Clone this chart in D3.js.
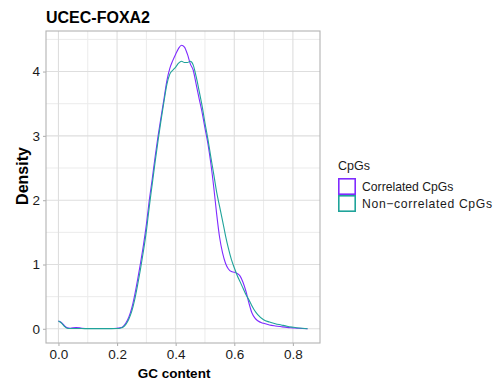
<!DOCTYPE html>
<html>
<head>
<meta charset="utf-8">
<script src="https://cdn.jsdelivr.net/npm/d3@7"></script>
<style>
  html, body { margin: 0; padding: 0; background: #fff; }
  svg { display: block; font-family: "Liberation Sans", Arial, sans-serif; }
</style>
</head>
<body>
<svg id="chart" width="498" height="387"></svg>
<script>
// GC content grid at which the density estimates are evaluated
const gcContent = [0, 0.01, 0.02, 0.03, 0.04, 0.06, 0.08, 0.10, 0.14, 0.18, 0.20, 0.21, 0.22, 0.23,
  0.24, 0.25, 0.26, 0.27, 0.28, 0.29, 0.30, 0.31, 0.32, 0.33, 0.34, 0.35, 0.36, 0.37, 0.38, 0.39,
  0.40, 0.41, 0.42, 0.43, 0.44, 0.45, 0.46, 0.47, 0.48, 0.49, 0.50, 0.51, 0.52, 0.53, 0.54, 0.55,
  0.56, 0.57, 0.58, 0.59, 0.60, 0.61, 0.62, 0.63, 0.64, 0.65, 0.66, 0.67, 0.68, 0.70, 0.72, 0.74,
  0.76, 0.78, 0.80, 0.82, 0.85];

const correlatedDensity = [0.12, 0.10, 0.05, 0.015, 0.01, 0.02, 0.01, 0.005, 0.005, 0.005, 0.01, 0.015, 0.035, 0.09,
  0.18, 0.32, 0.52, 0.76, 1.02, 1.30, 1.62, 2.00, 2.33, 2.68, 3.00, 3.29, 3.57, 3.86, 4.05, 4.17,
  4.27, 4.36, 4.41, 4.38, 4.27, 4.12, 4.02, 3.80, 3.58, 3.37, 3.12, 2.88, 2.57, 2.20, 1.78, 1.42,
  1.18, 1.02, 0.93, 0.89, 0.88, 0.86, 0.82, 0.72, 0.58, 0.40, 0.25, 0.17, 0.125, 0.085, 0.06, 0.045,
  0.033, 0.022, 0.015, 0.008, 0.002];

const nonCorrelatedDensity = [0.12, 0.09, 0.04, 0.008, 0.004, 0.004, 0.004, 0.003, 0.003, 0.003, 0.005, 0.01, 0.025, 0.07,
  0.15, 0.27, 0.45, 0.68, 0.93, 1.21, 1.52, 1.90, 2.25, 2.60, 2.93, 3.24, 3.53, 3.80, 3.96, 4.02,
  4.07, 4.13, 4.16, 4.14, 4.14, 4.16, 4.10, 3.92, 3.70, 3.47, 3.20, 2.95, 2.67, 2.40, 2.12, 1.90,
  1.68, 1.45, 1.25, 1.08, 0.95, 0.83, 0.73, 0.63, 0.53, 0.45, 0.36, 0.28, 0.22, 0.14, 0.105, 0.08,
  0.06, 0.04, 0.025, 0.012, 0.002];

const seriesNames = ["Correlated CpGs", "Non\u2212correlated CpGs"];
const seriesColors = ["#7F2BFF", "#1FA39A"];
const xTicks = [0, 0.2, 0.4, 0.6, 0.8];
const yTicks = [0, 1, 2, 3, 4];

const svg = d3.select("#chart");
const panel = { left: 46, top: 31, right: 320, bottom: 343 };

// ggplot-style 5% expansion on both axes
const xMin = 0, xMax = 0.85;
const xPad = (xMax - xMin) * 0.05;
const yMax = d3.max([...correlatedDensity, ...nonCorrelatedDensity]);
const yPad = yMax * 0.05;

const x = d3.scaleLinear().domain([xMin - xPad, xMax + xPad]).range([panel.left, panel.right]);
const y = d3.scaleLinear().domain([-yPad, yMax + yPad]).range([panel.bottom, panel.top]);

// minor grid
const g = svg.append("g");
const xMinor = d3.range(0.1, 0.9, 0.2);
const yMinor = d3.range(0.5, 4.6, 1);
g.selectAll("line.xminor").data(xMinor).join("line")
  .attr("x1", d => x(d)).attr("x2", d => x(d))
  .attr("y1", panel.top).attr("y2", panel.bottom)
  .attr("stroke", "#EBEBEB").attr("stroke-width", 1);
g.selectAll("line.yminor").data(yMinor.filter(v => y(v) > panel.top)).join("line")
  .attr("y1", d => y(d)).attr("y2", d => y(d))
  .attr("x1", panel.left).attr("x2", panel.right)
  .attr("stroke", "#EBEBEB").attr("stroke-width", 1);
// major grid
g.selectAll("line.xmajor").data(xTicks).join("line")
  .attr("x1", d => x(d)).attr("x2", d => x(d))
  .attr("y1", panel.top).attr("y2", panel.bottom)
  .attr("stroke", "#DEDEDE").attr("stroke-width", 1.1);
g.selectAll("line.ymajor").data(yTicks).join("line")
  .attr("y1", d => y(d)).attr("y2", d => y(d))
  .attr("x1", panel.left).attr("x2", panel.right)
  .attr("stroke", "#DEDEDE").attr("stroke-width", 1.1);

// density lines
const series = [correlatedDensity, nonCorrelatedDensity];
const line = d3.line()
  .x((d, i) => x(gcContent[i]))
  .y(d => y(d))
  .curve(d3.curveMonotoneX);
svg.append("g")
  .selectAll("path").data(series).join("path")
  .attr("d", d => line(d))
  .attr("fill", "none")
  .attr("stroke", (d, i) => seriesColors[i])
  .attr("stroke-width", 1.1);

// panel border
svg.append("rect")
  .attr("x", panel.left).attr("y", panel.top)
  .attr("width", panel.right - panel.left).attr("height", panel.bottom - panel.top)
  .attr("fill", "none").attr("stroke", "#B3B3B3").attr("stroke-width", 1.1);

// axes
const xAxis = d3.axisBottom(x).tickValues(xTicks).tickFormat(d3.format(".1f")).tickSize(3).tickPadding(3);
const yAxis = d3.axisLeft(y).tickValues(yTicks).tickFormat(d3.format("d")).tickSize(3).tickPadding(3);
const gx = svg.append("g").attr("transform", `translate(0,${panel.bottom})`).call(xAxis);
const gy = svg.append("g").attr("transform", `translate(${panel.left},0)`).call(yAxis);
[gx, gy].forEach(a => {
  a.select(".domain").remove();
  a.selectAll(".tick line").attr("stroke", "#B3B3B3").attr("stroke-width", 1.1);
  a.selectAll(".tick text").attr("fill", "#1A1A1A").attr("font-size", "13.5px")
    .attr("font-family", "Liberation Sans, Arial, sans-serif");
});

// titles
svg.append("text").attr("x", 46).attr("y", 22.5)
  .attr("font-size", "16px").attr("font-weight", "bold").attr("fill", "#000")
  .text("UCEC-FOXA2");
svg.append("text").attr("x", 174).attr("y", 378)
  .attr("text-anchor", "middle").attr("font-size", "13.5px").attr("font-weight", "bold")
  .text("GC content");
svg.append("text")
  .attr("transform", "translate(28,176) rotate(-90)")
  .attr("text-anchor", "middle").attr("font-size", "16px").attr("font-weight", "bold")
  .text("Density");

// legend
const lg = svg.append("g").attr("transform", "translate(338,0)");
lg.append("text").attr("x", 0).attr("y", 169.5).attr("font-size", "12.5px").attr("fill", "#1A1A1A").text("CpGs");
const items = lg.selectAll("g.item").data(seriesNames).join("g")
  .attr("transform", (d, i) => `translate(0,${178 + i * 17})`);
items.append("rect").attr("x", 0.8).attr("y", 0.8).attr("width", 16.4).attr("height", 15.4)
  .attr("fill", "#fff").attr("stroke", (d, i) => seriesColors[i]).attr("stroke-width", 1.6);
items.append("text").attr("x", 24).attr("y", 12.5).attr("font-size", "12.2px").attr("fill", "#1A1A1A")
  .attr("textLength", (d, i) => i === 1 ? 130 : null)
  .attr("lengthAdjust", "spacing")
  .text(d => d);
</script>
</body>
</html>
